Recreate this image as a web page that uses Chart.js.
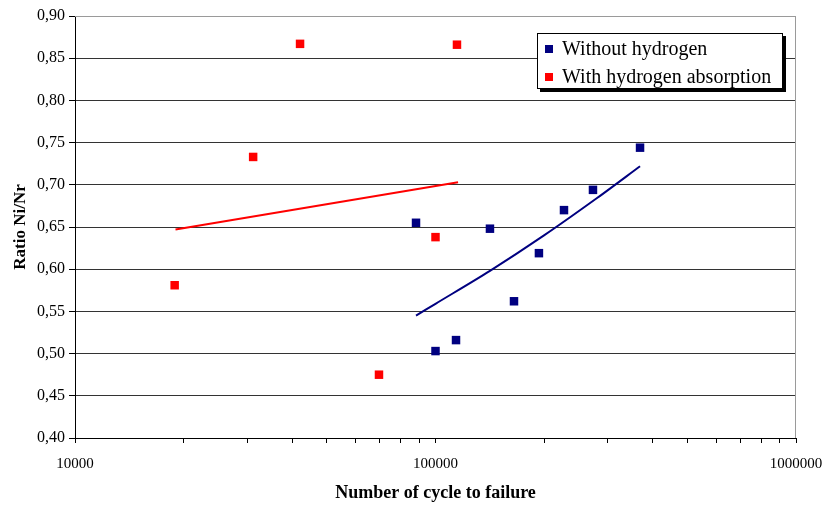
<!DOCTYPE html>
<html><head><meta charset="utf-8">
<script src="https://cdn.jsdelivr.net/npm/chart.js@4/dist/chart.umd.min.js"></script>
<style>html,body{margin:0;padding:0;background:#fff}canvas{display:block}</style>
</head><body>
<canvas id="c" width="826" height="507"></canvas>
<script>
// ---- data ----
const seriesNames = ['Without hydrogen', 'With hydrogen absorption'];
const withoutCycles = [88300, 100000, 114000, 141600, 165100, 193600, 227200, 273400, 369300];
const withoutRatio  = [0.655, 0.503, 0.516, 0.648, 0.562, 0.619, 0.670, 0.694, 0.744];
const withCycles = [18900, 31200, 42100, 69700, 100000, 114700];
const withRatio  = [0.581, 0.733, 0.867, 0.475, 0.638, 0.866];
// trend lines
const withoutTrendCycles = [88300, 100000, 141600, 200000, 280000, 369300];
const withoutTrendRatio  = [0.545, 0.559, 0.598, 0.640, 0.684, 0.722];
const withTrendCycles = [19000, 115500];
const withTrendRatio  = [0.647, 0.703];
// axes
const xTickValues = [10000, 20000, 30000, 40000, 50000, 60000, 70000, 80000, 90000,
                     100000, 200000, 300000, 400000, 500000, 600000, 700000, 800000, 900000, 1000000];
const xLabelledTicks = [10000, 100000, 1000000];
const yTickValues = [0.40, 0.45, 0.50, 0.55, 0.60, 0.65, 0.70, 0.75, 0.80, 0.85, 0.90];
const xTitle = 'Number of cycle to failure';
const yTitle = 'Ratio Ni/Nr';

const BLUE = '#000080', RED = '#ff0000';
const pts = (xs, ys) => xs.map((x, i) => ({x, y: ys[i]}));

const frame = {
  id: 'frame',
  beforeDatasetsDraw(chart) {
    const {ctx, chartArea: a} = chart;
    ctx.save();
    ctx.strokeStyle = '#9a9a9a';
    ctx.lineWidth = 1;
    ctx.beginPath();
    ctx.moveTo(a.left, a.top + 0.5);
    ctx.lineTo(a.right - 0.5, a.top + 0.5);
    ctx.lineTo(a.right - 0.5, a.bottom);
    ctx.stroke();
    ctx.restore();
  }
};

const legendBox = {
  id: 'legendBox',
  afterDraw(chart) {
    const {ctx, chartArea: a} = chart;
    const x = a.right - 259, y = a.top + 17, w = 246, h = 56;
    ctx.save();
    ctx.fillStyle = '#000';
    ctx.fillRect(x + 3, y + 3, w, h);
    ctx.fillStyle = '#fff';
    ctx.fillRect(x, y, w, h);
    ctx.strokeStyle = '#000';
    ctx.lineWidth = 1;
    ctx.strokeRect(x + 0.5, y + 0.5, w - 1, h - 1);
    ctx.font = '20px "Liberation Serif", "Times New Roman", serif';
    ctx.textBaseline = 'alphabetic';
    ctx.textAlign = 'left';
    const items = chart.data.datasets.filter(d => d.inLegend);
    items.forEach((d, i) => {
      const cy = y + 16 + i * 28;
      ctx.fillStyle = d.backgroundColor;
      ctx.fillRect(x + 8, cy - 4, 8, 8);
      ctx.fillStyle = '#000';
      ctx.fillText(d.label, x + 25, cy + 6);
    });
    ctx.restore();
  }
};

new Chart(document.getElementById('c'), {
  type: 'scatter',
  data: {
    datasets: [
      {label: seriesNames[0], inLegend: true, data: pts(withoutCycles, withoutRatio),
       backgroundColor: BLUE, borderColor: BLUE, pointStyle: 'rect', pointRadius: 6, borderWidth: 0, order: 1},
      {label: seriesNames[1], inLegend: true, data: pts(withCycles, withRatio),
       backgroundColor: RED, borderColor: RED, pointStyle: 'rect', pointRadius: 6, borderWidth: 0, order: 1},
      {label: 'trend1', type: 'line', data: pts(withoutTrendCycles, withoutTrendRatio),
       borderColor: BLUE, backgroundColor: BLUE, borderWidth: 2, pointRadius: 0, tension: 0.3, fill: false, order: 2},
      {label: 'trend2', type: 'line', data: pts(withTrendCycles, withTrendRatio),
       borderColor: RED, backgroundColor: RED, borderWidth: 2, pointRadius: 0, fill: false, order: 2}
    ]
  },
  options: {
    responsive: false,
    animation: false,
    devicePixelRatio: 1,
    events: [],
    layout: {padding: {left: 0, top: 16, right: 30, bottom: 0}},
    plugins: {legend: {display: false}, tooltip: {enabled: false}},
    scales: {
      x: {
        type: 'logarithmic', min: 10000, max: 1000000,
        afterFit(s) { s.height = 69; s.paddingLeft = 0; s.paddingRight = 0; },
        afterBuildTicks(s) { s.ticks = xTickValues.map(v => ({value: v})); },
        ticks: {
          autoSkip: false, maxRotation: 0, padding: 12, color: '#000',
          font: {family: '"Liberation Serif", "Times New Roman", serif', size: 15},
          callback: v => xLabelledTicks.includes(v) ? String(v) : ''
        },
        grid: {drawOnChartArea: false, drawTicks: true, tickLength: 5, tickColor: '#000'},
        border: {color: '#000', width: 1},
        title: {display: true, text: xTitle, color: '#000', padding: {top: 0, bottom: 3},
                font: {family: '"Liberation Serif", "Times New Roman", serif', size: 18, weight: 'bold'}}
      },
      y: {
        type: 'linear', min: 0.4, max: 0.9,
        afterFit(s) { s.width = 75; s.paddingTop = 0; s.paddingBottom = 0; },
        afterBuildTicks(s) { s.ticks = yTickValues.map(v => ({value: v})); },
        ticks: {
          padding: 4, color: '#000',
          font: {family: '"Liberation Serif", "Times New Roman", serif', size: 16},
          callback: v => Number(v).toFixed(2).replace('.', ',')
        },
        grid: {color: ctx => (ctx.tick && ctx.tick.value >= 0.899) ? '#9a9a9a' : '#333', lineWidth: 1,
               drawTicks: true, tickLength: 6, tickColor: '#000'},
        border: {color: '#000', width: 1},
        title: {display: true, text: yTitle, color: '#000', padding: {top: 10, bottom: 0},
                font: {family: '"Liberation Serif", "Times New Roman", serif', size: 17, weight: 'bold'}}
      }
    }
  },
  plugins: [frame, legendBox]
});
</script>
</body></html>
